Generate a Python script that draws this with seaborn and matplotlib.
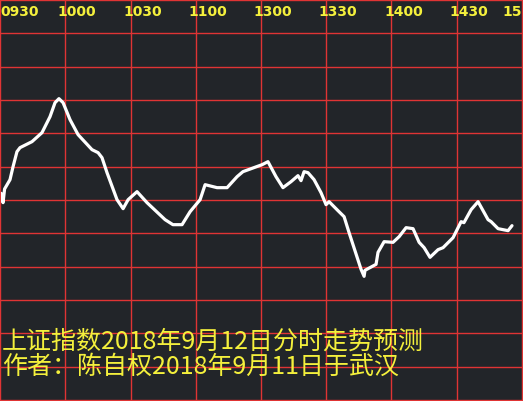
import numpy as np
import pandas as pd
import matplotlib
matplotlib.use("Agg")
import matplotlib.pyplot as plt
import matplotlib.transforms as mtransforms
import seaborn as sns

# ---- data --------------------------------------------------------------
# minutes after 09:30 (trading minutes, 240 in the day)
minutes = [0.5, 1.4, 2.1, 4.6, 6.0, 7.8, 9.2, 14.7, 19.3, 23.0, 25.3, 27.1,
           29.0, 32.2, 35.9, 42.3, 45.1, 46.9, 49.2, 53.8, 56.6, 58.9, 63.0,
           67.6, 75.9, 79.5, 83.7, 87.4, 92.0, 94.3, 99.8, 104.4, 109.0,
           111.7, 120.5, 123.2, 126.9, 130.1, 133.8, 137.0, 138.4, 139.8,
           141.6, 144.4, 147.6, 149.9, 151.3, 155.4, 158.2, 160.5, 166.0,
           167.4, 167.8, 172.9, 173.8, 176.6, 180.7, 183.5, 186.7, 189.9,
           192.7, 195.0, 197.7, 201.4, 203.7, 208.3, 212.0, 213.3, 216.6,
           219.8, 224.4, 225.8, 229.0, 233.6, 235.4]
# predicted level, in grid units (one unit per horizontal grid step)
level = [6.20, 5.92, 6.33, 6.61, 7.00, 7.45, 7.57, 7.75, 8.02, 8.50, 8.92, 9.04,
         8.92, 8.41, 7.96, 7.51, 7.42, 7.27, 6.82, 6.01, 5.74, 6.01, 6.25,
         5.92, 5.41, 5.26, 5.26, 5.65, 6.01, 6.46, 6.37, 6.37, 6.70,
         6.85, 7.06, 7.15, 6.70, 6.37, 6.55, 6.73, 6.58, 6.85,
         6.82, 6.61, 6.22, 5.86, 5.95, 5.68, 5.50, 5.02, 3.92,
         3.71, 3.89, 4.07, 4.43, 4.75, 4.73, 4.90, 5.17, 5.14,
         4.73, 4.57, 4.28, 4.51, 4.57, 4.87, 5.35, 5.32, 5.71,
         5.95, 5.41, 5.35, 5.14, 5.08, 5.23]

time_ticks = [0, 30, 60, 90, 120, 150, 180, 210, 240]
# the last label is cut to "15" by the right edge in the original
time_labels = ["0930", "1000", "1030", "1100", "1300", "1330", "1400", "1430", "15"]

title_lines = ["上证指数2018年9月12日分时走势预测",
               "作者：陈自权2018年9月11日于武汉"]

# ---- style ---------------------------------------------------------------
BG = "#222529"
RED = "#e03434"
YELLOW = "#f4f03c"

sns.set_style("dark", {"axes.facecolor": BG, "figure.facecolor": BG})
plt.rcParams["font.family"] = ["Noto Sans CJK SC", "DejaVu Sans"]

fig = plt.figure(figsize=(5.23, 4.01), dpi=100)
ax = fig.add_axes([0, 0, 1, 1])

df = pd.DataFrame({"minute": minutes, "level": level})
sns.lineplot(data=df, x="minute", y="level", color="white", linewidth=2.3, ax=ax)

ax.set_xlim(0, 240 * 523 / 522)
ax.set_ylim(-0.03, 12.0)
ax.set_xticks(time_ticks)
ax.set_yticks(range(0, 13))
ax.grid(True, color=RED, linewidth=1.0)
ax.tick_params(length=0, labelbottom=False, labelleft=False)
ax.set_xlabel("")
ax.set_ylabel("")
for sp in ax.spines.values():
    sp.set_visible(True)
    sp.set_color(RED)
    sp.set_linewidth(1.4)

# time labels along the top, just left of each grid line
trans = mtransforms.blended_transform_factory(ax.transData, ax.transAxes)
for i, (t, lab) in enumerate(zip(time_ticks, time_labels)):
    if i == 0:
        x = 0.3
    elif i == len(time_ticks) - 1:
        x = t - 9.0
    else:
        x = t - 3.4
    ax.text(x, 1 - 12 / 401, lab, transform=trans, color=YELLOW,
            fontsize=10, fontweight="bold", family="DejaVu Sans",
            ha="left", va="center")

# caption text at the bottom
for line, ypx in zip(title_lines, [342, 367]):
    fig.text(2 / 523, 1 - ypx / 401, line, color=YELLOW, fontsize=18,
             ha="left", va="center")

fig.savefig("out.png", dpi=100, facecolor=BG)
